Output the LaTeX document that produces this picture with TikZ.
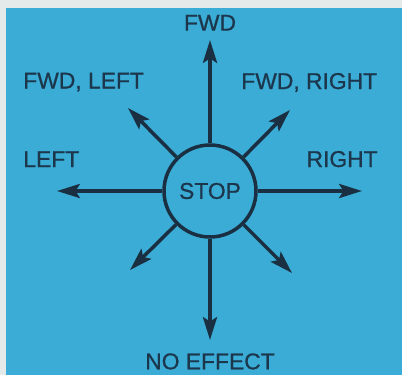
\documentclass[tikz,border=0pt]{standalone}
\usepackage{fontspec}
\setmainfont{Liberation Sans}
\newfontfamily\signfont{Liberation Sans}[FakeBold=0.8]
\usetikzlibrary{arrows.meta,positioning}
\definecolor{panel}{RGB}{58,172,214}
\definecolor{paper}{RGB}{228,233,233}
\definecolor{ink}{RGB}{26,48,66}
\definecolor{lettering}{RGB}{28,54,76}

\begin{document}
\begin{tikzpicture}[
  lbl/.style={text=lettering, font=\signfont\fontsize{13}{15}\selectfont, inner sep=0pt},
  ring/.style={circle, draw=ink, line width=2pt, minimum size=1.84cm, inner sep=0pt},
  arrow/.style={-{Stealth[length=13pt, width=8pt, inset=2.5pt]}, draw=ink, fill=ink, line width=2pt}
]
  \useasboundingbox (0,0) rectangle (8.04,-7.5);
  \fill[paper] (0,0) rectangle (8.04,-7.5);
  \fill[panel] (0.12,-0.16) rectangle (8.04,-7.5);

  \node[ring, lbl] (stop) at (4.2,-3.82) {STOP};
  % arrow ends
  \coordinate[above=3.02cm of stop.center] (fwdtip);
  \coordinate[below=2.98cm of stop.center] (backtip);
  \coordinate[left=3.06cm of stop.center] (lefttip);
  \coordinate[right=3.04cm of stop.center] (righttip);
  \coordinate[above left=1.66cm and 1.64cm of stop.center] (fltip);
  \coordinate[above right=1.62cm and 1.60cm of stop.center] (frtip);
  \coordinate[below left=1.58cm and 1.60cm of stop.center] (bltip);
  \coordinate[below right=1.64cm and 1.64cm of stop.center] (brtip);

  \node[lbl, above=0.18cm of fwdtip] (fwd) {FWD};
  \node[lbl, below=0.26cm of backtip] (noeff) {NO EFFECT};
  \node[lbl, anchor=base west] (fwdleft) at (0.46,-1.77) {FWD, LEFT};
  \node[lbl, anchor=base east] (fwdright) at (7.55,-1.78) {FWD, RIGHT};
  \node[lbl, anchor=base west] (left) at (0.46,-3.34) {LEFT};
  \node[lbl, anchor=base east] (right) at (7.56,-3.34) {RIGHT};

  \foreach \tip in {fwdtip,backtip,lefttip,righttip,fltip,frtip,bltip,brtip}
    \draw[arrow] (stop) -- (\tip);
\end{tikzpicture}
\end{document}
